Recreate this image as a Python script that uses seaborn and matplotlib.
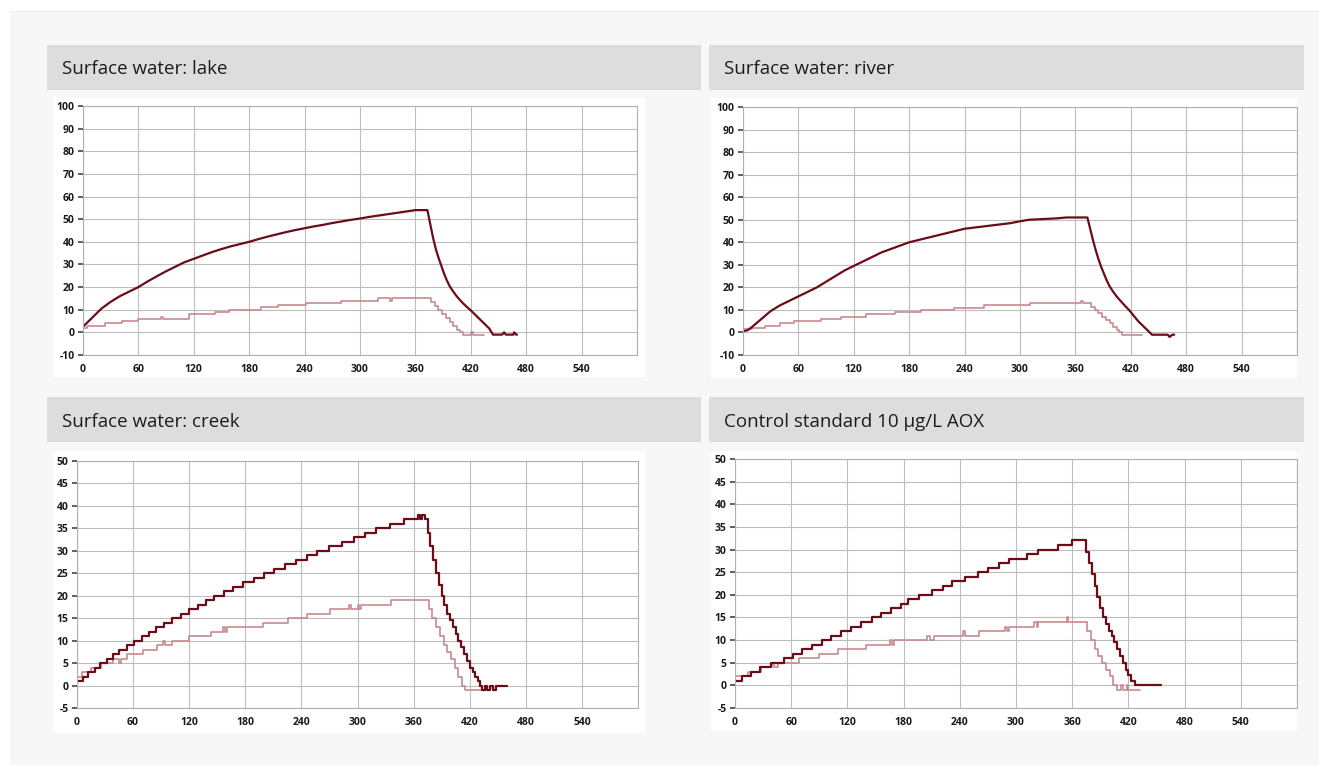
import matplotlib
matplotlib.use("Agg")
import matplotlib.pyplot as plt
import seaborn as sns
import pandas as pd
from matplotlib.patches import Rectangle

# ---------------- data (time in s, signal) ----------------
titles = ["Surface water: lake", "Surface water: river",
          "Surface water: creek", "Control standard 10 µg/L AOX"]

x_ticks = [0, 60, 120, 180, 240, 300, 360, 420, 480, 540]
y_ticks_big = [-10, 0, 10, 20, 30, 40, 50, 60, 70, 80, 90, 100]
y_ticks_small = [-5, 0, 5, 10, 15, 20, 25, 30, 35, 40, 45, 50]

lake_dark = [(0, 2.5), (10, 6.5), (20, 10.5), (30, 13.5), (40, 16), (50, 18), (60, 20),
             (70, 22.5), (80, 24.8), (90, 27), (100, 29), (110, 31), (120, 32.5),
             (130, 34), (140, 35.5), (150, 36.8), (160, 38), (170, 39), (180, 40),
             (190, 41.2), (200, 42.3), (210, 43.3), (220, 44.3), (230, 45.2), (240, 46),
             (250, 46.8), (260, 47.5), (270, 48.3), (280, 49), (290, 49.7), (300, 50.3),
             (310, 51), (320, 51.6), (330, 52.2), (340, 52.8), (350, 53.4), (360, 54),
             (373, 54), (376, 48), (379, 42), (382, 37), (385, 33), (388, 29.5),
             (391, 26), (394, 23), (397, 20.5), (401, 18), (405, 15.8), (410, 13.5),
             (415, 11.5), (420, 9.7), (425, 7.7), (430, 5.7), (435, 3.7), (440, 1.7),
             (444, -1), (454, -1), (456, 0), (458, -1), (466, -1), (467, 0), (469, -1),
             (470, -1)]

lake_light = [(0, 2), (4, 3), (24, 4), (42, 5), (60, 6), (84, 7), (87, 6), (115, 8),
              (143, 9), (158, 10), (193, 11), (211, 12), (241, 13), (279, 14), (320, 15),
              (332, 14), (335, 15), (373, 15), (377, 13.2), (381, 11.5), (385, 9.7),
              (389, 8), (393, 6.2), (397, 4.4), (401, 2.7), (405, 1), (408, 0),
              (412, -1), (418, -1), (420, 0), (422, -1), (434, -1)]

river_dark = [(0, 0.5), (5, 1), (10, 2.5), (20, 6), (30, 9.5), (40, 12), (50, 14), (60, 16),
              (70, 18), (80, 20), (90, 22.5), (100, 25), (110, 27.5), (120, 29.5),
              (130, 31.5), (140, 33.5), (150, 35.5), (160, 37), (170, 38.5), (180, 40),
              (190, 41), (200, 42), (210, 43), (220, 44), (230, 45), (240, 46),
              (250, 46.5), (260, 47), (270, 47.5), (280, 48), (290, 48.5), (300, 49.3),
              (310, 50), (320, 50.2), (330, 50.4), (340, 50.6), (350, 51), (373, 51),
              (376, 46), (379, 41), (382, 36.5), (385, 32.5), (388, 29), (391, 26),
              (394, 23), (397, 20.5), (401, 18), (405, 15.8), (410, 13.5), (414, 11.7),
              (418, 10), (423, 7.5), (428, 5), (433, 3), (438, 1), (443, -1), (460, -1),
              (462, -2), (465, -1), (467, -1)]

river_light = [(0, 1.5), (10, 2), (24, 3), (40, 4), (55, 5), (85, 6), (106, 7), (133, 8),
               (165, 9), (193, 10), (229, 11), (261, 12), (311, 13), (366, 14), (368, 13),
               (373, 13), (377, 11.5), (381, 10), (385, 8.5), (389, 7), (393, 5.5),
               (397, 4), (401, 2.5), (405, 1), (407, 0), (410, -1), (432, -1)]

creek_dark = [(0, 1), (6, 2), (12, 3), (19, 4), (25, 5), (32, 6), (38, 7), (45, 8), (53, 9),
              (61, 10), (69, 11), (77, 12), (85, 13), (93, 14), (102, 15), (111, 16),
              (120, 17), (129, 18), (138, 19), (147, 20), (157, 21), (167, 22), (178, 23),
              (189, 24), (200, 25), (211, 26), (222, 27), (234, 28), (246, 29), (257, 30),
              (270, 31), (283, 32), (296, 33), (308, 34), (320, 35), (335, 36), (350, 37),
              (365, 38), (367, 37), (369, 38), (372, 37), (375, 34), (378, 31), (381, 28),
              (384, 25), (387, 22.5), (390, 20), (393, 18), (396, 16), (399, 14.5),
              (402, 13), (405, 11.5), (408, 10), (411, 8.5), (414, 7), (417, 5.5),
              (420, 4), (423, 3), (426, 2), (429, 1), (431, 0), (433, -1), (436, 0),
              (438, -1), (442, 0), (445, -1), (448, 0), (460, 0)]

creek_light = [(0, 2), (5, 3), (15, 4), (26, 5), (39, 6), (45, 5), (47, 6), (53, 7),
               (71, 8), (86, 9), (92, 10), (94, 9), (102, 10), (120, 11), (143, 12),
               (156, 13), (158, 12), (160, 13), (199, 14), (226, 15), (246, 16), (271, 17),
               (291, 18), (293, 17), (300, 18), (302, 17), (304, 18), (336, 19), (372, 19),
               (376, 17), (380, 15), (384, 13), (388, 11), (392, 9), (396, 7.5), (400, 6),
               (404, 4), (408, 2), (412, 0), (415, -1), (432, -1)]

control_dark = [(0, 1), (8, 2), (17, 3), (27, 4), (38, 5), (52, 6), (62, 7), (72, 8),
                (82, 9), (93, 10), (103, 11), (113, 12), (124, 13), (135, 14), (146, 15),
                (156, 16), (167, 17), (177, 18), (185, 19), (196, 20), (210, 21), (222, 22),
                (232, 23), (246, 24), (259, 25), (270, 26), (282, 27), (293, 28), (312, 29),
                (323, 30), (345, 31), (360, 32), (372, 32), (375, 29.5), (378, 27),
                (381, 24.5), (384, 22), (387, 19.5), (390, 17), (393, 15), (396, 13.5),
                (399, 12), (402, 11), (405, 9.5), (408, 8), (411, 6.5), (414, 5),
                (417, 3.5), (420, 2.2), (423, 1), (427, 0), (455, 0)]

control_light = [(0, 2), (14, 3), (28, 4), (40, 5), (42, 4), (46, 5), (68, 6), (90, 7),
                 (110, 8), (140, 9), (165, 10), (168, 9), (170, 10), (205, 11), (208, 10),
                 (212, 11), (243, 12), (246, 11), (261, 12), (288, 13), (290, 12),
                 (292, 13), (319, 14), (322, 13), (324, 14), (354, 15), (356, 14),
                 (372, 14), (376, 12), (380, 10), (384, 8), (388, 6.5), (392, 5),
                 (396, 3.5), (400, 2), (404, 0), (408, -1), (412, 0), (414, -1),
                 (418, 0), (420, -1), (432, -1)]

# ---------------- style ----------------
sns.set_theme(style="white")
plt.rcParams['font.family'] = ['Open Sans', 'DejaVu Sans']

W, H = 1319, 765
DARK = '#6b0c18'
LIGHT = '#c78a8d'
GRID = '#bdbdbd'
HEADER = '#dcdddc'

fig = plt.figure(figsize=(W / 100, H / 100), dpi=100, facecolor='white')


def add_rect(x0, y0, x1, y1, color, z=-5):
    fig.patches.append(Rectangle((x0 / W, 1 - y1 / H), (x1 - x0) / W, (y1 - y0) / H,
                                 transform=fig.transFigure, facecolor=color,
                                 edgecolor='none', zorder=z))


def frac(x0, y0, x1, y1):
    return [x0 / W, 1 - y1 / H, (x1 - x0) / W, (y1 - y0) / H]


add_rect(10, 11, 1319, 765, '#f7f7f7', -10)
add_rect(10, 11, 1319, 12, '#ebebeb', -9)

panels = [
    dict(title=titles[0], header=(47, 45, 701, 90), box=(53, 98, 645, 377),
         ax=(83, 106, 637, 355), yt=y_ticks_big, dark=lake_dark, light=lake_light,
         dstep=None),
    dict(title=titles[1], header=(709, 45, 1304, 90), box=(711, 98, 1297, 378),
         ax=(743, 107, 1297, 355), yt=y_ticks_big, dark=river_dark, light=river_light,
         dstep=None),
    dict(title=titles[2], header=(47, 397, 701, 442), box=(53, 451, 645, 733),
         ax=(77, 461, 638, 708), yt=y_ticks_small, dark=creek_dark, light=creek_light,
         dstep='steps-post'),
    dict(title=titles[3], header=(709, 397, 1304, 442), box=(711, 451, 1297, 731),
         ax=(735, 459, 1297, 708), yt=y_ticks_small, dark=control_dark,
         light=control_light, dstep='steps-post'),
]

for p in panels:
    hx0, hy0, hx1, hy1 = p['header']
    add_rect(hx0, hy0, hx1, hy1, HEADER)
    add_rect(*p['box'], 'white')
    fig.text((hx0 + 15) / W, 1 - ((hy0 + hy1) / 2 + 2) / H, p['title'],
             ha='left', va='center', fontsize=13.5, fontweight='medium', color='#1c1c1c')

    ax = fig.add_axes(frac(*p['ax']))
    ax.set_facecolor('white')

    ld = pd.DataFrame(p['light'], columns=['t', 'v'])
    dd = pd.DataFrame(p['dark'], columns=['t', 'v'])
    sns.lineplot(data=ld, x='t', y='v', ax=ax, color=LIGHT, lw=1.2,
                 drawstyle='steps-post', estimator=None, sort=False)
    kw = {}
    if p['dstep']:
        kw['drawstyle'] = p['dstep']
    sns.lineplot(data=dd, x='t', y='v', ax=ax, color=DARK, lw=1.6,
                 estimator=None, sort=False, **kw)

    yt = p['yt']
    ax.set_xlim(0, 600)
    ax.set_ylim(yt[0], yt[-1])
    ax.set_yticks(yt, labels=[str(v) for v in yt], fontweight='bold',
                  fontsize=7.5, color='#1a1a1a')
    ax.set_xticks(list(range(0, 601, 60)),
                  labels=[str(v) for v in x_ticks] + [''], fontweight='bold',
                  fontsize=7.5, color='#1a1a1a')
    ax.tick_params(axis='x', length=0, pad=6.5)
    ax.tick_params(axis='y', length=3.6, width=1.1, color='#333333', pad=2.5, left=True)
    ax.grid(True, color=GRID, lw=0.8)
    ax.set_axisbelow(True)
    for s in ax.spines.values():
        s.set_color('#b0b0b0')
        s.set_linewidth(0.8)
    ax.set_xlabel('')
    ax.set_ylabel('')

fig.savefig('out.png', dpi=100, facecolor='white')
